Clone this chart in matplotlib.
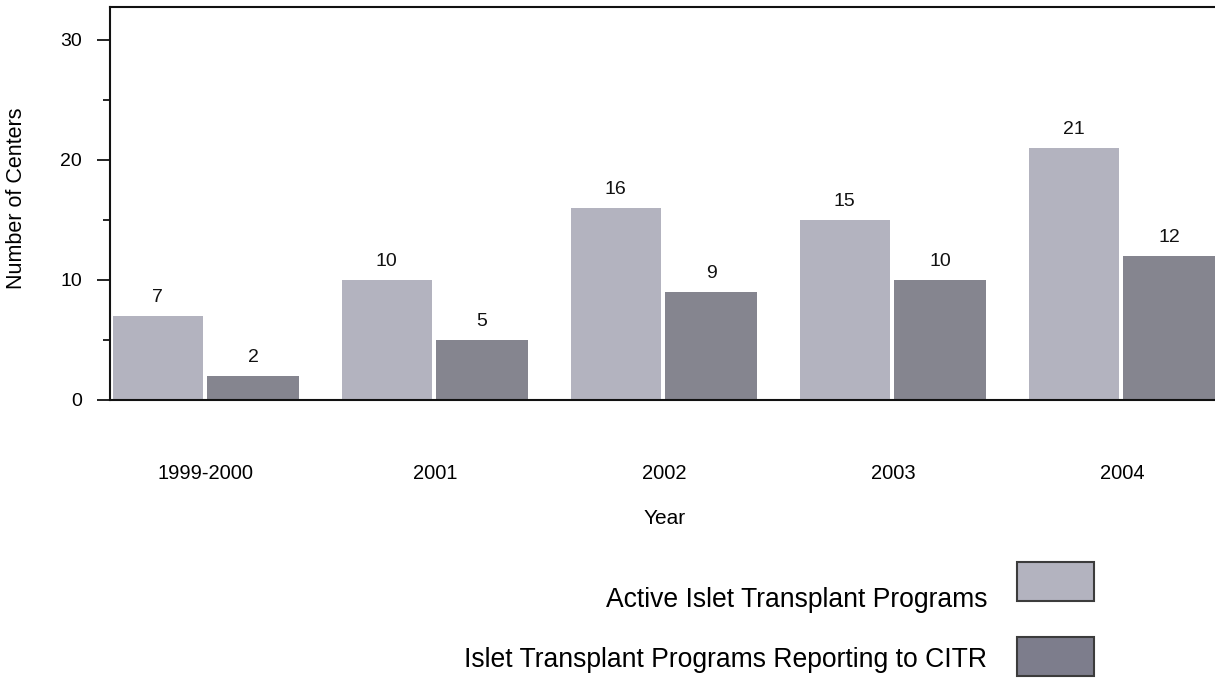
import matplotlib
matplotlib.use("Agg")
import matplotlib.pyplot as plt
from matplotlib.patches import Rectangle
import numpy as np

categories = ["1999-2000", "2001", "2002", "2003", "2004"]
active_programs = [7, 10, 16, 15, 21]
reporting_programs = [2, 5, 9, 10, 12]
series_names = ["Active Islet Transplant Programs",
                "Islet Transplant Programs Reporting to CITR"]
yticks_major = [0, 10, 20, 30]
yticks_minor = [5, 15, 25]

plt.rcParams['font.family'] = ['Liberation Sans', 'DejaVu Sans']

W, H = 1215, 679
fig = plt.figure(figsize=(W / 100, H / 100), dpi=100)

light = "#b3b3bf"
dark = "#85858f"
legend_dark = "#7d7d8c"
edge = "#3c3c3c"

left_px, right_px, bottom_px, top_px = 110, 1230, 400, 7
ax = fig.add_axes([left_px / W, 1 - bottom_px / H,
                   (right_px - left_px) / W, (bottom_px - top_px) / H])

x = np.arange(len(categories))
b1 = ax.bar(x - 0.210, active_programs, width=0.393, color=light, linewidth=0)
b2 = ax.bar(x + 0.206, reporting_programs, width=0.400, color=dark, linewidth=0)

for bars, vals in ((b1, active_programs), (b2, reporting_programs)):
    for r, v in zip(bars, vals):
        ax.annotate(str(v), (r.get_x() + r.get_width() / 2, v),
                    xytext=(0, 7.5), textcoords="offset points",
                    ha="center", va="bottom", fontsize=14, color="#111111")

ax.set_xlim(-0.4188, 4.472)
ax.set_ylim(0, 32.75)
ax.set_yticks(yticks_major)
ax.set_yticks(yticks_minor, minor=True)
ax.tick_params(axis="y", which="major", length=9.4, width=1.2, pad=10.8,
               labelsize=14, direction="out")
ax.tick_params(axis="y", which="minor", length=5, width=1.2, direction="out")
ax.set_xticks(x)
ax.set_xticklabels(categories)
ax.tick_params(axis="x", length=0, pad=46, labelsize=14.5)

for s in ("left", "bottom", "top"):
    ax.spines[s].set_linewidth(1.5)
    ax.spines[s].set_color("#111111")
ax.spines["right"].set_visible(False)

fig.text(17 / W, 1 - 198 / H, "Number of Centers", rotation=90,
         ha="center", va="center", fontsize=15.5)
fig.text(665 / W, 1 - 519 / H, "Year", ha="center", va="center", fontsize=15)

# legend
for name, fc, (y0, y1), base in ((series_names[0], light, (562, 601), 607),
                                 (series_names[1], legend_dark, (637, 676), 667)):
    fig.text(987 / W, 1 - base / H, name, ha="right", va="baseline", fontsize=19.1)
    fig.patches.append(Rectangle((1017 / W, 1 - y1 / H), 77 / W, (y1 - y0) / H,
                                 transform=fig.transFigure, facecolor=fc,
                                 edgecolor=edge, linewidth=1.5))

fig.savefig("out.png", dpi=100)
